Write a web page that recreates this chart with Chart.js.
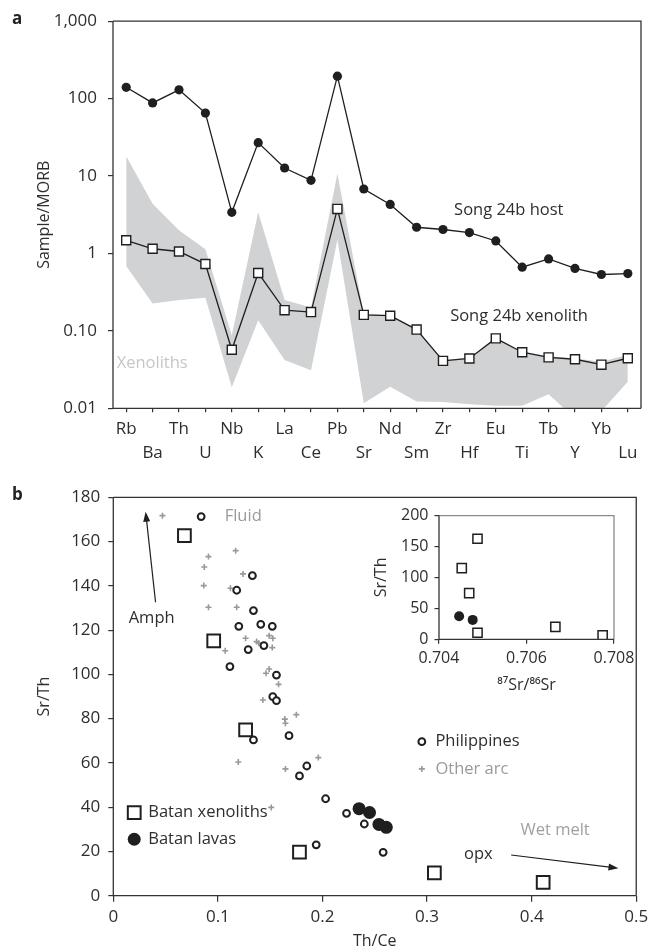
<!DOCTYPE html>
<html>
<head>
<meta charset="utf-8">
<script src="https://cdn.jsdelivr.net/npm/chart.js@4.4.1/dist/chart.umd.min.js"></script>
<style>
  body { margin: 0; background: #fff; }
  #page { position: relative; width: 653px; height: 951px; }
  canvas { position: absolute; }
  .tag { position: absolute; font: bold 17px 'Open Sans', sans-serif; color: #222; line-height: 23px; }
</style>
</head>
<body>
<div id="page">
  <canvas id="chartA" width="653" height="475" style="left:0;top:0"></canvas>
  <canvas id="chartB" width="653" height="476" style="left:0;top:475px"></canvas>
  <canvas id="chartC" width="290" height="200" style="left:360px;top:500px"></canvas>
  <div class="tag" style="left:12px;top:6px">a</div>
  <div class="tag" style="left:12px;top:482px">b</div>
</div>
<script>
// panel a - spider diagram
const elements = ['Rb','Ba','Th','U','Nb','K','La','Ce','Pb','Sr','Nd','Sm','Zr','Hf','Eu','Ti','Tb','Y','Yb','Lu'];
const hostValues = [140, 88, 130, 65, 3.4, 27, 12.7, 8.8, 195, 6.8, 4.3, 2.18, 2.04, 1.86, 1.45, 0.665, 0.85, 0.64, 0.535, 0.55];
const xenolithValues = [1.48, 1.15, 1.06, 0.73, 0.057, 0.56, 0.185, 0.175, 3.76, 0.161, 0.157, 0.104, 0.041, 0.044, 0.080, 0.053, 0.0455, 0.043, 0.0366, 0.0443];
const bandHigh = [18, 4.4, 2.0, 1.13, 0.088, 3.4, 0.25, 0.2, 10.8, 0.165, 0.16, 0.106, 0.042, 0.045, 0.081, 0.054, 0.047, 0.044, 0.04, 0.049];
const bandLow = [0.69, 0.226, 0.25, 0.267, 0.0187, 0.137, 0.042, 0.031, 1.5, 0.0116, 0.019, 0.0122, 0.0121, 0.0113, 0.0108, 0.0108, 0.0152, 0.0074, 0.0092, 0.022];
const yTicksA = [0.01, 0.1, 1, 10, 100, 1000];
const yTickLabelsA = ['0.01', '0.10', '1', '10', '100', '1,000'];

// panel b - Sr/Th vs Th/Ce
const xenoThCe = [0.068, 0.096, 0.1265, 0.178, 0.307, 0.411];
const xenoSrTh = [162.7, 115.1, 74.9, 19.7, 10.3, 6.0];
const lavaThCe = [0.235, 0.245, 0.254, 0.261];
const lavaSrTh = [39.3, 37.6, 32.2, 30.9];
const philThCe = [0.084, 0.133, 0.118, 0.134, 0.120, 0.141, 0.152, 0.144, 0.129, 0.1115, 0.156, 0.1525, 0.156, 0.134, 0.168, 0.178, 0.185, 0.203, 0.194, 0.223, 0.240, 0.258];
const philSrTh = [171.3, 144.6, 138.0, 128.8, 121.7, 122.6, 121.7, 113.0, 111.2, 103.5, 99.7, 89.9, 88.1, 70.4, 72.3, 54.1, 58.6, 43.8, 23.0, 37.2, 32.4, 19.6];
const arcThCe = [0.047, 0.091, 0.087, 0.0865, 0.091, 0.117, 0.124, 0.112, 0.118, 0.107, 0.1265, 0.137, 0.139, 0.149, 0.1525, 0.152, 0.149, 0.146, 0.158, 0.143, 0.164, 0.1646, 0.175, 0.1195, 0.1646, 0.196, 0.151];
const arcSrTh = [171.7, 153.2, 148.5, 140.1, 130.3, 155.9, 145.4, 138.9, 130.3, 110.7, 116.3, 114.8, 114.1, 117.5, 116.3, 112.1, 102.4, 100.5, 95.5, 88.4, 79.8, 77.9, 81.8, 60.4, 57.3, 62.4, 39.9];

// inset - Sr/Th vs 87Sr/86Sr
const isoXeno = [0.70488, 0.70452, 0.70469, 0.70488, 0.70666, 0.70774];
const isoXenoSrTh = [162.6, 115.2, 74.6, 10.6, 20.2, 6.4];
const isoLava = [0.70446, 0.70477];
const isoLavaSrTh = [37.3, 31.4];

const ink = '#1f1f1f';
const FONT = "'Open Sans', sans-serif";
Chart.defaults.font.family = FONT;
Chart.defaults.font.size = 17;
Chart.defaults.color = '#2e2e2e';
Chart.defaults.animation = false;

const pts = (xs, ys) => xs.map((x, i) => ({ x: x, y: ys[i] }));

// box around the plot area
const framePlugin = {
  id: 'frame',
  afterDatasetsDraw(chart, args, opts) {
    const { ctx, chartArea: a } = chart;
    ctx.save();
    ctx.lineWidth = 1.3;
    ctx.strokeStyle = opts.edge || '#333';
    ctx.beginPath();
    ctx.moveTo(a.left, a.top); ctx.lineTo(a.right, a.top); ctx.lineTo(a.right, a.bottom);
    ctx.stroke();
    ctx.strokeStyle = '#333';
    ctx.beginPath();
    ctx.moveTo(a.left, a.top); ctx.lineTo(a.left, a.bottom); ctx.lineTo(a.right, a.bottom);
    ctx.stroke();
    ctx.restore();
  }
};

// labels, arrows and legend marks placed in data units
const notesPlugin = {
  id: 'notes',
  afterDatasetsDraw(chart, args, opts) {
    const { ctx } = chart;
    const sx = chart.scales.x, sy = chart.scales.y;
    ctx.save();
    (opts.arrows || []).forEach(a => {
      const x1 = sx.getPixelForValue(a.x1), y1 = sy.getPixelForValue(a.y1);
      const x2 = sx.getPixelForValue(a.x2), y2 = sy.getPixelForValue(a.y2);
      const ang = Math.atan2(y2 - y1, x2 - x1);
      ctx.strokeStyle = ink; ctx.fillStyle = ink; ctx.lineWidth = 1.2;
      ctx.beginPath(); ctx.moveTo(x1, y1);
      ctx.lineTo(x2 - 7 * Math.cos(ang), y2 - 7 * Math.sin(ang)); ctx.stroke();
      ctx.beginPath();
      ctx.moveTo(x2, y2);
      ctx.lineTo(x2 - 10 * Math.cos(ang) + 3.5 * Math.sin(ang), y2 - 10 * Math.sin(ang) - 3.5 * Math.cos(ang));
      ctx.lineTo(x2 - 10 * Math.cos(ang) - 3.5 * Math.sin(ang), y2 - 10 * Math.sin(ang) + 3.5 * Math.cos(ang));
      ctx.closePath(); ctx.fill();
    });
    (opts.marks || []).forEach(m => {
      const x = sx.getPixelForValue(m.x), y = sy.getPixelForValue(m.y);
      ctx.beginPath();
      if (m.style === 'rect') {
        ctx.lineWidth = 2; ctx.strokeStyle = ink; ctx.fillStyle = '#fff';
        ctx.rect(x - 6.4, y - 6.4, 12.8, 12.8); ctx.fill(); ctx.stroke();
      } else if (m.style === 'dot') {
        ctx.fillStyle = ink; ctx.arc(x, y, 6.5, 0, Math.PI * 2); ctx.fill();
      } else if (m.style === 'ring') {
        ctx.lineWidth = 2; ctx.strokeStyle = ink; ctx.fillStyle = '#fff';
        ctx.arc(x, y, 3.4, 0, Math.PI * 2); ctx.fill(); ctx.stroke();
      } else {
        ctx.lineWidth = 1.6; ctx.strokeStyle = '#999';
        ctx.moveTo(x - 3, y); ctx.lineTo(x + 3, y); ctx.moveTo(x, y - 3); ctx.lineTo(x, y + 3); ctx.stroke();
      }
    });
    (opts.texts || []).forEach(t => {
      ctx.font = '16.5px ' + FONT;
      ctx.fillStyle = t.color || '#2e2e2e';
      ctx.textAlign = 'left';
      ctx.textBaseline = 'middle';
      ctx.fillText(t.text, sx.getPixelForValue(t.x), sy.getPixelForValue(t.y));
    });
    ctx.restore();
  }
};

const tickGrid = (len) => ({ drawOnChartArea: false, drawTicks: true, tickLength: len, color: '#333', lineWidth: 1.2, offset: false });

new Chart(document.getElementById('chartA'), {
  type: 'line',
  data: {
    labels: elements,
    datasets: [
      { data: hostValues, borderColor: ink, borderWidth: 1.3, backgroundColor: ink,
        pointStyle: 'circle', pointRadius: 4.6, pointBorderWidth: 0, tension: 0 },
      { data: xenolithValues, borderColor: ink, borderWidth: 1.3, backgroundColor: '#fff',
        pointStyle: 'rect', pointRadius: 6.4, pointBorderWidth: 1.4, pointBorderColor: ink, tension: 0 },
      { data: bandHigh, borderColor: 'transparent', borderWidth: 0, pointRadius: 0,
        backgroundColor: '#d1d2d4', fill: '+1', tension: 0 },
      { data: bandLow, borderColor: 'transparent', borderWidth: 0, pointRadius: 0, fill: false, tension: 0 }
    ]
  },
  options: {
    responsive: false,
    layout: { padding: { left: 10, right: 12, top: 20.7, bottom: 5 } },
    scales: {
      x: {
        type: 'category', offset: true,
        grid: tickGrid(4), border: { display: false },
        ticks: { autoSkip: false, maxRotation: 0, padding: 5, font: { size: 17, lineHeight: 1.394 },
          callback: (v, i) => i % 2 ? ['', elements[i]] : elements[i] },
        afterFit: s => { s.height = 61.7; }
      },
      y: {
        type: 'logarithmic', min: 0.01, max: 1000,
        grid: tickGrid(5), border: { display: false },
        afterBuildTicks: s => { s.ticks = yTicksA.map(v => ({ value: v })); },
        ticks: { padding: 11, callback: (v, i) => yTickLabelsA[i] },
        title: { display: true, text: 'Sample/MORB', padding: { top: 24.4, bottom: 0 }, font: { size: 16 } },
        afterFit: s => { s.width = 103; }
      }
    },
    plugins: {
      legend: { display: false }, tooltip: { enabled: false },
      notes: {
        texts: [
          { x: 12.42, y: 3.62, text: 'Song 24b host' },
          { x: 12.27, y: 0.155, text: 'Song 24b xenolith' },
          { x: -0.36, y: 0.038, text: 'Xenoliths', color: '#c6c6c6' }
        ]
      }
    }
  },
  plugins: [framePlugin, notesPlugin]
});

new Chart(document.getElementById('chartB'), {
  type: 'scatter',
  data: {
    datasets: [
      { data: pts(lavaThCe, lavaSrTh), pointStyle: 'circle', pointRadius: 6.5, backgroundColor: ink, pointBorderWidth: 0 },
      { data: pts(philThCe, philSrTh), pointStyle: 'circle', pointRadius: 3.4, backgroundColor: '#fff', borderColor: ink, pointBorderWidth: 2 },
      { data: pts(arcThCe, arcSrTh), pointStyle: 'cross', pointRadius: 3, borderColor: '#999', pointBorderWidth: 1.6 },
      { data: pts(xenoThCe, xenoSrTh), pointStyle: 'rect', pointRadius: 9, backgroundColor: '#fff', borderColor: ink, pointBorderWidth: 2 }
    ]
  },
  options: {
    responsive: false,
    layout: { padding: { left: 10, right: 15.3, top: 22.3, bottom: 0 } },
    scales: {
      x: {
        type: 'linear', min: 0, max: 0.5,
        grid: tickGrid(6), border: { display: false },
        ticks: { stepSize: 0.1, padding: 4.8 },
        title: { display: true, text: 'Th/Ce', padding: { top: 0, bottom: 0.4 }, font: { size: 16 } },
        afterFit: s => { s.height = 55.3; }
      },
      y: {
        type: 'linear', min: 0, max: 180,
        grid: tickGrid(5), border: { display: false },
        ticks: { stepSize: 20, padding: 8 },
        title: { display: true, text: 'Sr/Th', padding: { top: 24.4, bottom: 0 }, font: { size: 16 } },
        afterFit: s => { s.width = 103.3; }
      }
    },
    plugins: {
      legend: { display: false }, tooltip: { enabled: false },
      notes: {
        texts: [
          { x: 0.1065, y: 171.3, text: 'Fluid', color: '#9a9a9a' },
          { x: 0.0147, y: 125.4, text: 'Amph' },
          { x: 0.308, y: 69.6, text: 'Philippines' },
          { x: 0.308, y: 57.3, text: 'Other arc', color: '#9a9a9a' },
          { x: 0.3893, y: 29.7, text: 'Wet melt', color: '#a0a0a0' },
          { x: 0.3353, y: 18.8, text: 'opx' },
          { x: 0.0334, y: 37.5, text: 'Batan xenoliths' },
          { x: 0.0334, y: 25.5, text: 'Batan lavas' }
        ],
        arrows: [
          { x1: 0.0404, y1: 132.6, x2: 0.0309, y2: 173.5 },
          { x1: 0.3804, y1: 18.4, x2: 0.4830, y2: 12.4 }
        ],
        marks: [
          { x: 0.020, y: 37.5, style: 'rect' },
          { x: 0.020, y: 25.5, style: 'dot' },
          { x: 0.295, y: 69.6, style: 'ring' },
          { x: 0.295, y: 57.3, style: 'cross' }
        ]
      }
    }
  },
  plugins: [framePlugin, notesPlugin]
});

new Chart(document.getElementById('chartC'), {
  type: 'scatter',
  data: {
    datasets: [
      { data: pts(isoLava, isoLavaSrTh), pointStyle: 'circle', pointRadius: 5, backgroundColor: ink, pointBorderWidth: 0 },
      { data: pts(isoXeno, isoXenoSrTh), pointStyle: 'rect', pointRadius: 6.5, backgroundColor: '#fff', borderColor: ink, pointBorderWidth: 1.5 }
    ]
  },
  options: {
    responsive: false,
    layout: { padding: { left: 10, right: 36, top: 14.3, bottom: 4 } },
    scales: {
      x: {
        type: 'linear', min: 0.704, max: 0.708,
        grid: tickGrid(4.5), border: { display: false },
        ticks: { stepSize: 0.002, padding: 4.9, font: { size: 16 }, callback: v => v.toFixed(3) },
        title: { display: true, text: '⁸⁷Sr/⁸⁶Sr', padding: { top: 0, bottom: 1.4 }, font: { size: 16 } },
        afterFit: s => { s.height = 56.7; }
      },
      y: {
        type: 'linear', min: 0, max: 200,
        grid: tickGrid(4.5), border: { display: false },
        ticks: { stepSize: 50, padding: 6, font: { size: 16 } },
        title: { display: true, text: 'Sr/Th', padding: { top: 2.1, bottom: 0 }, font: { size: 16 } },
        afterFit: s => { s.width = 69; }
      }
    },
    plugins: {
      legend: { display: false }, tooltip: { enabled: false },
      frame: { edge: '#8a8a8a' }
    }
  },
  plugins: [framePlugin]
});
</script>
</body>
</html>
